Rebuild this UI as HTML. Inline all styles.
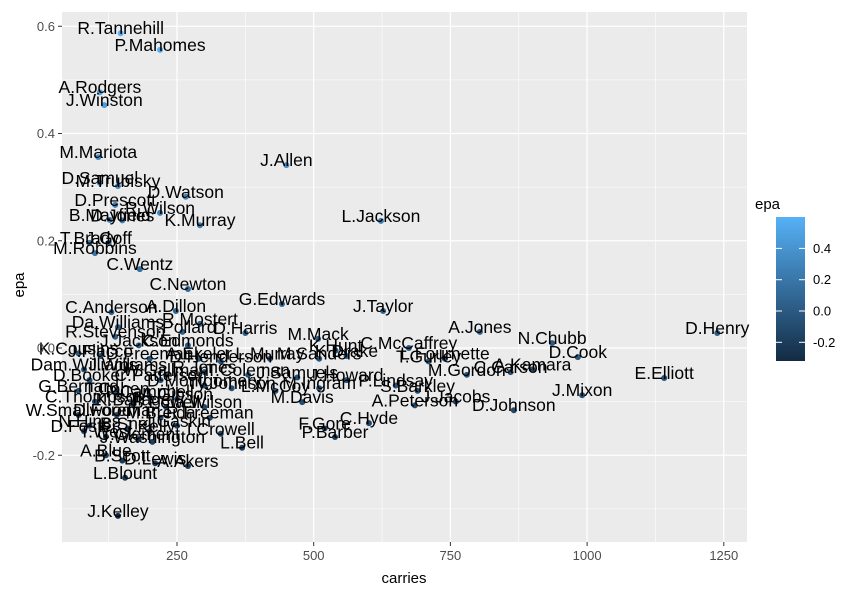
<!DOCTYPE html>
<html><head><meta charset="utf-8">
<style>
body{margin:0;background:#fff;}
svg{display:block;font-family:"Liberation Sans",Arial,sans-serif;}
</style></head>
<body>
<svg id="chart" width="857" height="597" viewBox="0 0 857 597">
  <rect x="62" y="12" width="685" height="530" fill="#EBEBEB"/>
  <g id="grid"></g>
  <g id="points"></g>
  <g id="labels"></g>
  <g id="axes"></g>
  <text x="404" y="583" text-anchor="middle" font-size="15" fill="#000">carries</text>
  <text x="24" y="285" text-anchor="middle" font-size="15" fill="#000" transform="rotate(-90 24 285)">epa</text>
  <g>
    <text x="755" y="209" font-size="15" fill="#000">epa</text>
    <defs><linearGradient id="cg" x1="0" y1="1" x2="0" y2="0">
      <stop offset="0" stop-color="#132B43"/><stop offset="1" stop-color="#56B1F7"/></linearGradient></defs>
    <rect x="776" y="217" width="29" height="144" fill="url(#cg)"/>
    <g id="legendTicks"></g>
  </g>
</svg>
<script>
const xTicks=[250,500,750,1000,1250];
const xMinor=[125,375,625,875,1125];
const yTicks=[0.6,0.4,0.2,0.0,-0.2];
const yMinor=[0.5,0.3,0.1,-0.1,-0.3];
const yTickLabels=["0.6","0.4","0.2","0.0","-0.2"];
const legendTicks=[0.4,0.2,0.0,-0.2];
const legendTickLabels=["0.4","0.2","0.0","-0.2"];
const names=["R.Tannehill","P.Mahomes","A.Rodgers","J.Winston","M.Mariota","J.Allen","D.Samuel","M.Trubisky","D.Watson","D.Prescott","R.Wilson","L.Jackson","B.Mayfield","D.Jones","K.Murray","T.Brady","J.Goff","M.Robbins","C.Wentz","C.Newton","G.Edwards","J.Taylor","A.Dillon","C.Anderson","Da.Williams","R.Mostert","T.Pollard","D.Harris","R.Stevenson","M.Mack","A.Jones","N.Chubb","D.Henry","C.McCaffrey","D.Cook","J.Jackson","C.Edmonds","K.Hunt","K.Drake","M.Sanders","L.Fournette","T.Gurley","A.Kamara","C.Carson","M.Gordon","E.Elliott","J.Howard","P.Lindsay","S.Barkley","J.Mixon","M.Davis","A.Peterson","J.Jacobs","D.Johnson","C.Hyde","F.Gore","P.Barber","L.Bell","J.Washington","A.Blue","B.Scott","D.Lewis","A.Akers","L.Blount","J.Kelley",
"K.Cousins","J.Flacco","D.Freeman","A.Ekeler","D.Henderson","L.Murray","Dam.Williams","J.Williams","W.Gallman","R.Jones","T.Coleman","J.Samuels","D.Booker","C.Patterson","D.Montgomery","Ty.Johnson","L.McCoy","M.Ingram","G.Bernard","T.Cohen","P.Campbell","A.Gibson","C.Thompson","K.Ballage","B.Powell","Ja.Wilson","W.Smallwood","D.Foreman","M.Breida","R.Freeman","N.Hines","J.Gaskin","B.Snell","J.Kelly","I.Crowell","D.Foster","T.West","C.Clement"];
const carries=[147,219,109,117,106,450,109,142,266,137,219,623,127,150,292,90,125,100,182,270,442,627,248,130,142,292,260,375,137,508,804,936,1238,674,983,180,270,540,560,510,740,710,900,860,780,1141,560,650,690,991,479,685,760,866,601,520,539,369,205,120,150,210,270,155,142,
70,110,200,290,330,420,80,160,230,300,380,470,90,220,300,350,430,510,70,140,200,250,100,170,230,300,70,140,220,310,90,250,160,200,330,80,120,180];
const epa=[0.587,0.556,0.477,0.453,0.356,0.341,0.308,0.302,0.282,0.267,0.252,0.237,0.239,0.238,0.229,0.196,0.196,0.177,0.147,0.110,0.082,0.069,0.069,0.067,0.039,0.045,0.030,0.028,0.021,0.017,0.030,0.009,0.028,0.000,-0.017,0.005,0.005,-0.005,-0.015,-0.020,-0.020,-0.025,-0.040,-0.045,-0.050,-0.056,-0.060,-0.070,-0.080,-0.088,-0.101,-0.107,-0.100,-0.116,-0.140,-0.150,-0.166,-0.186,-0.175,-0.200,-0.210,-0.215,-0.220,-0.242,-0.313,
-0.010,-0.015,-0.020,-0.020,-0.025,-0.020,-0.040,-0.040,-0.050,-0.045,-0.050,-0.055,-0.060,-0.060,-0.070,-0.075,-0.080,-0.075,-0.080,-0.085,-0.090,-0.095,-0.100,-0.105,-0.110,-0.110,-0.125,-0.125,-0.130,-0.130,-0.145,-0.145,-0.150,-0.155,-0.160,-0.155,-0.165,-0.170];

const NS="http://www.w3.org/2000/svg";
function xS(v){return 40.3+v*0.5468;}
function yS(v){return 348-v*536.25;}
function lS(v){return 311-v*156.5;}
function mk(tag,attrs,parent){const e=document.createElementNS(NS,tag);for(const k in attrs)e.setAttribute(k,attrs[k]);parent.appendChild(e);return e;}
function lerp(a,b,t){return Math.round(a+(b-a)*t);}
function col(v){let t=(v+0.313)/(0.587+0.313);t=Math.max(0,Math.min(1,t));return `rgb(${lerp(19,86,t)},${lerp(43,177,t)},${lerp(67,247,t)})`;}

const grid=document.getElementById('grid');
xMinor.forEach(v=>{const l=mk('line',{x1:xS(v),x2:xS(v),y1:12,y2:542,stroke:'#fff','stroke-width':0.6},grid);

});
yMinor.forEach(v=>{const l=mk('line',{x1:62,x2:747,y1:yS(v),y2:yS(v),stroke:'#fff','stroke-width':0.6},grid);

});
xTicks.forEach(v=>{const l=mk('line',{x1:xS(v),x2:xS(v),y1:12,y2:542,stroke:'#fff','stroke-width':1.2},grid);

});
yTicks.forEach(v=>{const l=mk('line',{x1:62,x2:747,y1:yS(v),y2:yS(v),stroke:'#fff','stroke-width':1.2},grid);

});

const axes=document.getElementById('axes');
xTicks.forEach(v=>{
  const t=mk('line',{x1:xS(v),x2:xS(v),y1:542,y2:546,stroke:'#333','stroke-width':1},axes);
  
  
  const tx=mk('text',{x:xS(v),y:560,'text-anchor':'middle','font-size':13,fill:'#4D4D4D'},axes);
  tx.textContent=String(v);
  
  
});
yTicks.forEach((v,i)=>{
  const t=mk('line',{x1:58,x2:62,y1:yS(v),y2:yS(v),stroke:'#333','stroke-width':1},axes);
  
  
  const tx=mk('text',{x:55,y:yS(v)+4.5,'text-anchor':'end','font-size':13,fill:'#4D4D4D'},axes);
  tx.textContent=yTickLabels[i];
  
  
});

const lt=document.getElementById('legendTicks');
legendTicks.forEach((v,i)=>{
  const a=mk('line',{x1:776,x2:782,y1:lS(v),y2:lS(v),stroke:'#fff','stroke-width':1},lt);
  
  
  const b=mk('line',{x1:799,x2:805,y1:lS(v),y2:lS(v),stroke:'#fff','stroke-width':1},lt);
  
  
  const tx=mk('text',{x:813,y:lS(v)+4.5,'font-size':13,fill:'#000'},lt);
  tx.textContent=legendTickLabels[i];
  
  
});

const pts=document.getElementById('points'), lbs=document.getElementById('labels');
names.forEach((n,i)=>{
  const cx=xS(carries[i]), cy=yS(epa[i]);
  const c=mk('circle',{cx:cx,cy:cy,r:3,fill:col(epa[i])},pts);
  
  
  const t=mk('text',{x:cx,y:cy+1,'text-anchor':'middle','font-size':17.5,fill:'#000'},lbs);
  t.textContent=n;
  
  
});
</script>
</body></html>
